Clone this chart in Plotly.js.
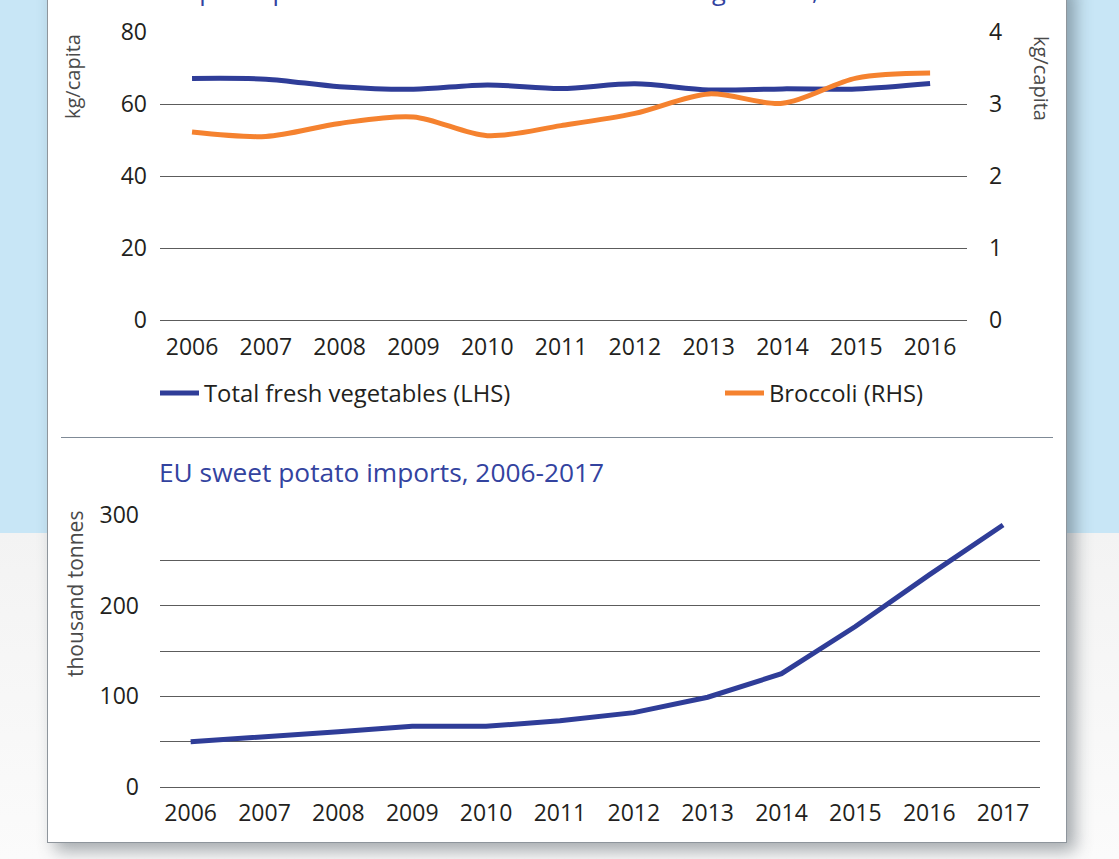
<!DOCTYPE html>
<html>
<head>
<meta charset="utf-8">
<script src="https://cdn.plot.ly/plotly-3.0.1.min.js"></script>
<style>
  html, body { margin: 0; padding: 0; width: 1119px; height: 859px; overflow: hidden; }
  body { position: relative; background: linear-gradient(to bottom, #c8e6f6 0px, #c8e6f6 533px, #f3f3f3 533px, #fbfbfb 859px); }
  #panel { position: absolute; left: 47px; top: -20px; width: 1018px; height: 861px; background: #ffffff;
           border: 1.5px solid #8e959c; box-shadow: 8px 8px 16px rgba(60,70,80,0.45); }
  #sep { position: absolute; left: 61px; top: 437px; width: 992px; height: 1px; background: #7f8a96; }
  #chart { position: absolute; left: 0; top: 0; width: 1119px; height: 859px; }
</style>
</head>
<body>
<div id="panel"></div>
<div id="sep"></div>
<div id="chart"></div>
<script>
// ---- data ----
const yearsTop = [2006, 2007, 2008, 2009, 2010, 2011, 2012, 2013, 2014, 2015, 2016];
const totalFreshVeg = [67.1, 66.9, 64.8, 64.1, 65.3, 64.3, 65.6, 63.9, 64.2, 64.2, 65.7];
const broccoli = [2.61, 2.55, 2.73, 2.82, 2.56, 2.70, 2.87, 3.14, 3.01, 3.36, 3.43];
const yearsBottom = [2006, 2007, 2008, 2009, 2010, 2011, 2012, 2013, 2014, 2015, 2016, 2017];
const sweetPotatoImports = [50, 55, 61, 67, 67, 73, 82, 99, 125, 177, 234, 289];
const topTitle = "US per capita use of broccoli and total fresh vegetables, 2006-2016";
const bottomTitle = "EU sweet potato imports, 2006-2017";
const nameTotal = "Total fresh vegetables (LHS)";
const nameBroccoli = "Broccoli (RHS)";

// ---- layout helpers ----
const W = 1119, H = 859;
const px = v => v / W;
const py = v => 1 - v / H;
const FONT = "Open Sans, Noto Sans, sans-serif";
const BLUE = "#2f3d98";
const ORANGE = "#f5822f";
const GRID = "#5c5c5c";
const TXT = "#231f20";

const traces = [
  { x: yearsTop, y: totalFreshVeg, name: nameTotal, type: "scatter", mode: "lines", legend: "legend",
    line: { color: BLUE, width: 5, shape: "spline", smoothing: 0.9 }, xaxis: "x", yaxis: "y" },
  { x: yearsTop, y: broccoli, name: nameBroccoli, type: "scatter", mode: "lines", legend: "legend2",
    line: { color: ORANGE, width: 5, shape: "spline", smoothing: 0.9 }, xaxis: "x", yaxis: "y2" },
  { x: yearsBottom, y: sweetPotatoImports, name: "EU sweet potato imports", type: "scatter", mode: "lines",
    line: { color: BLUE, width: 5 }, xaxis: "x2", yaxis: "y3", showlegend: false }
];

const tickFont = { family: FONT, size: 23, color: TXT };
const legendFont = { family: FONT, size: 23.8, color: TXT };

const layout = {
  width: W, height: H,
  margin: { l: 0, r: 0, t: 0, b: 0 },
  paper_bgcolor: "rgba(0,0,0,0)",
  plot_bgcolor: "rgba(0,0,0,0)",
  font: { family: FONT, color: TXT },
  showlegend: true,
  legend: {
    orientation: "h", x: px(155), xanchor: "left", y: py(393), yanchor: "middle",
    itemwidth: 39, font: legendFont, bgcolor: "rgba(0,0,0,0)"
  },
  legend2: {
    orientation: "h", x: px(720), xanchor: "left", y: py(393), yanchor: "middle",
    itemwidth: 39, font: legendFont, bgcolor: "rgba(0,0,0,0)"
  },
  xaxis: {
    domain: [px(160), px(967)], anchor: "y", range: [2005.566, 2016.5],
    tickmode: "array", tickvals: yearsTop, ticktext: yearsTop.map(String),
    showgrid: false, zeroline: false, showline: false, ticks: "",
    tickfont: tickFont, ticklabelstandoff: 11
  },
  yaxis: {
    domain: [py(320), py(32)], anchor: "x", range: [0, 80], dtick: 20,
    showgrid: true, gridcolor: GRID, gridwidth: 1, zeroline: true, zerolinecolor: GRID, zerolinewidth: 1,
    ticks: "", tickfont: tickFont, ticklabelstandoff: 12
  },
  yaxis2: {
    overlaying: "y", side: "right", anchor: "x", range: [0, 4], dtick: 1,
    showgrid: false, zeroline: false, ticks: "", tickfont: tickFont, ticklabelstandoff: 21
  },
  xaxis2: {
    domain: [px(160), px(1040)], anchor: "y3", range: [2005.585, 2017.5],
    tickmode: "array", tickvals: yearsBottom, ticktext: yearsBottom.map(String),
    showgrid: false, zeroline: false, showline: false, ticks: "",
    tickfont: tickFont, ticklabelstandoff: 10
  },
  yaxis3: {
    domain: [py(787), py(515)], anchor: "x2", range: [0, 300], dtick: 100,
    showgrid: true, gridcolor: GRID, gridwidth: 1, zeroline: true, zerolinecolor: GRID, zerolinewidth: 1,
    minor: { dtick: 50, showgrid: true, gridcolor: GRID, gridwidth: 1, ticks: "" },
    ticks: "", tickfont: tickFont, ticklabelstandoff: 20
  },
  annotations: [
    { text: topTitle, xref: "paper", yref: "paper", x: px(158), xanchor: "left",
      y: py(-10), yanchor: "middle", showarrow: false,
      font: { family: FONT, size: 25.5, color: "#33439f" } },
    { text: bottomTitle, xref: "paper", yref: "paper", x: px(157), xanchor: "left",
      y: py(472), yanchor: "middle", showarrow: false,
      font: { family: FONT, size: 26.3, color: "#33439f" } },
    { text: "kg/capita", xref: "paper", yref: "paper", x: px(73), xanchor: "center",
      y: py(77), yanchor: "middle", textangle: -90, showarrow: false,
      font: { family: FONT, size: 20, color: "#4a4a4a" } },
    { text: "kg/capita", xref: "paper", yref: "paper", x: px(1041), xanchor: "center",
      y: py(78), yanchor: "middle", textangle: 90, showarrow: false,
      font: { family: FONT, size: 20, color: "#4a4a4a" } },
    { text: "thousand tonnes", xref: "paper", yref: "paper", x: px(75), xanchor: "center",
      y: py(594), yanchor: "middle", textangle: -90, showarrow: false,
      font: { family: FONT, size: 21, color: "#4a4a4a" } }
  ]
};

Plotly.newPlot("chart", traces, layout, { displayModeBar: false, staticPlot: true });
</script>
</body>
</html>
